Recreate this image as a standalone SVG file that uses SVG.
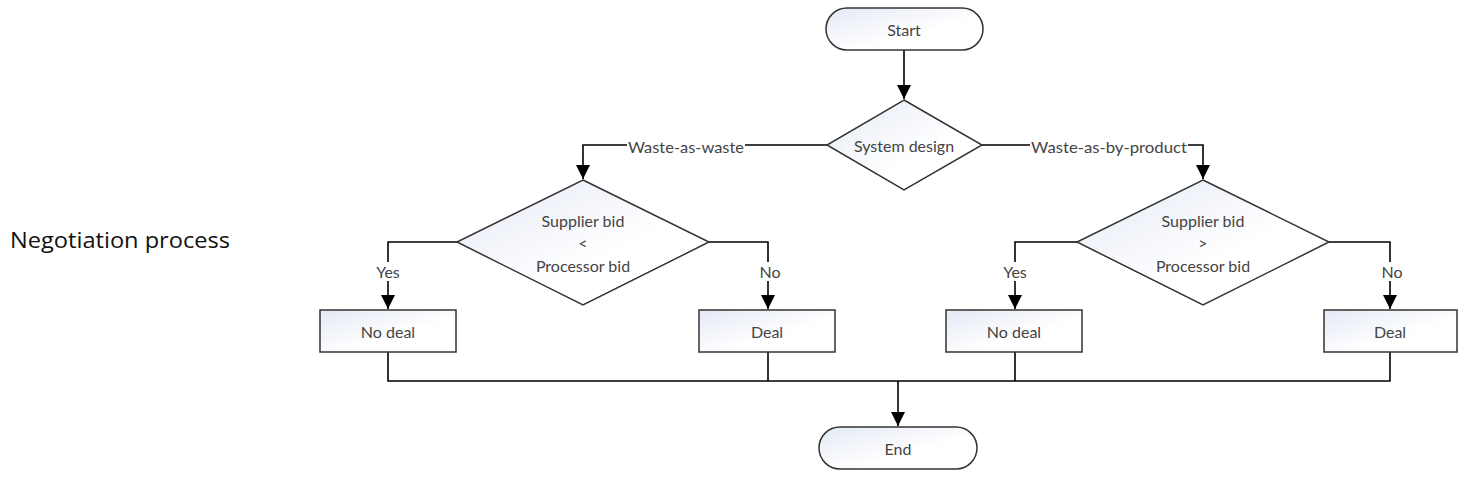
<svg xmlns="http://www.w3.org/2000/svg" width="1469" height="490" viewBox="0 0 1469 490">
<defs>
<linearGradient id="g" x1="0" y1="0" x2="1" y2="1">
<stop offset="0" stop-color="#e4e9f5"/>
<stop offset="0.6" stop-color="#ffffff"/>
</linearGradient>
<marker id="arrbig" viewBox="0 0 14 14" refX="14" refY="7" markerWidth="14" markerHeight="14" markerUnits="userSpaceOnUse" orient="auto">
<path d="M0,0 L14,7 L0,14 z" fill="#000"/>
</marker>
</defs>
<style>
.shape{fill:url(#g);stroke:#333;stroke-width:1.5}
.t{font-family:Lato,"Open Sans",sans-serif;font-size:16px;fill:#444;text-anchor:middle;dominant-baseline:central}
.lbl{font-family:Lato,"Open Sans",sans-serif;font-size:16px;fill:#444;text-anchor:middle;dominant-baseline:central}
.c{fill:none;stroke:#000;stroke-width:1.6}
</style>
<rect width="1469" height="490" fill="#fff"/>
<text x="10" y="248" font-family="'Open Sans',sans-serif" font-size="21" fill="#111" textLength="220" lengthAdjust="spacingAndGlyphs">Negotiation process</text>
<g id="connectors">
<path class="c" d="M904,50 V99" marker-end="url(#arrbig)"/>
<path class="c" d="M827,145 H583 V179" marker-end="url(#arrbig)"/>
<path class="c" d="M982,145 H1203 V179" marker-end="url(#arrbig)"/>
<path class="c" d="M457,242 H388 V309" marker-end="url(#arrbig)"/>
<path class="c" d="M709,242 H768 V309" marker-end="url(#arrbig)"/>
<path class="c" d="M1077,242 H1015 V309" marker-end="url(#arrbig)"/>
<path class="c" d="M1329,242 H1390 V309" marker-end="url(#arrbig)"/>
<path class="c" d="M388,352 V381 H1390 V352 M768,352 V381 M1015,352 V381"/>
<path class="c" d="M898,381 V426" marker-end="url(#arrbig)"/>
<rect x="627" y="137" width="118" height="18" fill="#fff"/>
<text class="lbl" x="686" y="146" textLength="116" lengthAdjust="spacingAndGlyphs">Waste-as-waste</text>
<rect x="1030" y="137" width="158" height="18" fill="#fff"/>
<text class="lbl" x="1109" y="146" textLength="156" lengthAdjust="spacingAndGlyphs">Waste-as-by-product</text>
<rect x="374" y="262" width="28" height="19" fill="#fff"/>
<text class="lbl" x="388" y="271">Yes</text>
<rect x="758" y="262" width="22" height="19" fill="#fff"/>
<text class="lbl" x="770" y="271">No</text>
<rect x="1001" y="262" width="28" height="19" fill="#fff"/>
<text class="lbl" x="1015" y="271">Yes</text>
<rect x="1380" y="262" width="22" height="19" fill="#fff"/>
<text class="lbl" x="1392" y="271">No</text>
</g>
<g id="start">
<rect class="shape" x="826" y="8" width="157" height="42" rx="21"/>
<text class="t" x="904" y="29">Start</text>
</g>
<g id="system-design">
<polygon class="shape" points="904,100 982,145 904,190 827,145"/>
<text class="t" x="904" y="145">System design</text>
</g>
<g id="decision-left">
<polygon class="shape" points="583,180 709,242 583,305 457,242"/>
<text class="t" x="583" y="220">Supplier bid</text>
<text class="t" x="583" y="242">&lt;</text>
<text class="t" x="583" y="265">Processor bid</text>
</g>
<g id="decision-right">
<polygon class="shape" points="1203,180 1329,242 1203,305 1077,242"/>
<text class="t" x="1203" y="220">Supplier bid</text>
<text class="t" x="1203" y="242">&gt;</text>
<text class="t" x="1203" y="265">Processor bid</text>
</g>
<g id="no-deal-left">
<rect class="shape" x="320" y="310" width="136" height="42"/>
<text class="t" x="388" y="331">No deal</text>
</g>
<g id="deal-left">
<rect class="shape" x="699" y="310" width="136" height="42"/>
<text class="t" x="767" y="331">Deal</text>
</g>
<g id="no-deal-right">
<rect class="shape" x="946" y="310" width="136" height="42"/>
<text class="t" x="1014" y="331">No deal</text>
</g>
<g id="deal-right">
<rect class="shape" x="1324" y="310" width="133" height="42"/>
<text class="t" x="1390" y="331">Deal</text>
</g>
<g id="end">
<rect class="shape" x="819" y="427" width="158" height="42" rx="21"/>
<text class="t" x="898" y="448">End</text>
</g>
</svg>
